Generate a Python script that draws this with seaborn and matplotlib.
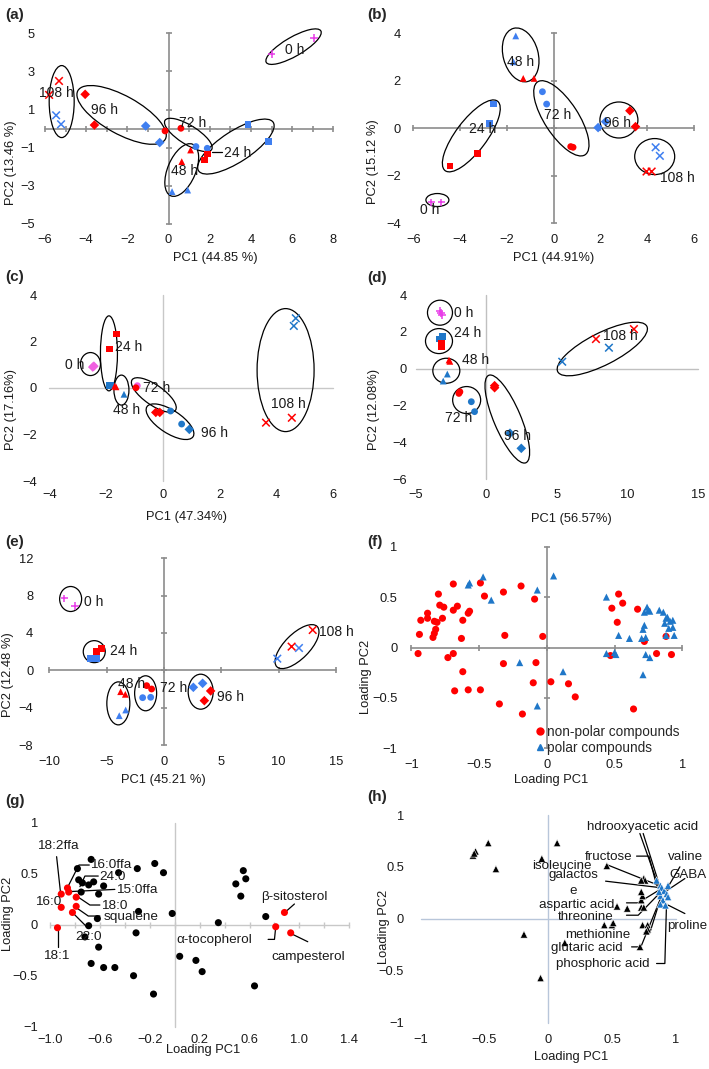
import numpy as np
import pandas as pd
import seaborn as sns
import matplotlib.pyplot as plt
import matplotlib.transforms as mtransforms
from matplotlib.patches import Ellipse
from matplotlib.lines import Line2D
from matplotlib.ticker import FuncFormatter

# ---------------- data: scores plots (a)-(e) ----------------
# group: r = red series, b = blue series, c = control (0 h)
a_time = ['0 h', '0 h', '108 h', '108 h', '108 h', '108 h', '96 h', '96 h', '96 h', '96 h',
          '72 h', '72 h', '72 h', '72 h', '48 h', '48 h', '48 h', '48 h', '24 h', '24 h', '24 h', '24 h']
a_grp = ['c', 'c', 'r', 'r', 'b', 'b', 'r', 'r', 'b', 'b',
         'r', 'r', 'b', 'b', 'r', 'r', 'b', 'b', 'r', 'r', 'b', 'b']
a_pc1 = [5.0, 7.06, -5.32, -5.8, -5.46, -5.22, -4.05, -3.6, -1.11, -0.43,
         -0.17, 0.6, 1.33, 1.88, 1.07, 0.64, 0.17, 0.93, 1.75, 1.9, 3.86, 4.86]
a_pc2 = [3.9, 4.74, 2.5, 1.77, 0.7, 0.23, 1.8, 0.19, 0.14, -0.73,
         -0.12, 0.02, -0.94, -1.03, -1.12, -1.73, -3.3, -3.22, -1.64, -1.33, 0.23, -0.68]

b_time = ['0 h', '0 h', '24 h', '24 h', '24 h', '24 h', '48 h', '48 h', '48 h', '48 h',
          '72 h', '72 h', '72 h', '72 h', '96 h', '96 h', '96 h', '96 h', '108 h', '108 h', '108 h', '108 h']
b_grp = ['c', 'c', 'r', 'r', 'b', 'b', 'b', 'b', 'r', 'r',
         'b', 'b', 'r', 'r', 'b', 'b', 'r', 'r', 'b', 'b', 'r', 'r']
b_pc1 = [-5.23, -4.8, -4.43, -3.26, -2.58, -2.73, -1.62, -1.72, -1.3, -0.84,
         -0.48, -0.3, 0.73, 0.83, 1.9, 2.22, 3.26, 3.5, 4.36, 4.54, 3.97, 4.19]
b_pc2 = [-3.12, -3.12, -1.59, -1.05, 1.02, 0.21, 3.89, 2.8, 2.1, 2.1,
         1.54, 1.02, -0.77, -0.8, 0.03, 0.28, 0.74, 0.07, -0.8, -1.16, -1.82, -1.82]

c_time = ['0 h', '0 h', '24 h', '24 h', '24 h', '24 h', '48 h', '48 h', '48 h', '72 h', '72 h',
          '72 h', '72 h', '96 h', '96 h', '96 h', '108 h', '108 h', '108 h', '108 h']
c_grp = ['c', 'c', 'r', 'r', 'b', 'b', 'r', 'r', 'b', 'c', 'r',
         'b', 'b', 'r', 'r', 'b', 'b', 'b', 'r', 'r']
c_pc1 = [-2.47, -2.43, -1.63, -1.89, -1.9, -1.83, -1.7, -1.65, -1.37, -0.9, -0.95,
         0.27, 0.66, -0.25, -0.11, 0.93, 4.68, 4.61, 3.63, 4.54]
c_pc2 = [0.9, 0.94, 2.32, 1.68, 0.1, 0.12, 0.08, 0.05, -0.27, 0.1, 0.01,
         -0.99, -1.55, -1.05, -1.05, -1.78, 3.0, 2.67, -1.49, -1.28]

d_time = ['0 h', '0 h', '0 h', '24 h', '24 h', '24 h', '24 h', '48 h', '48 h', '48 h', '48 h',
          '72 h', '72 h', '72 h', '72 h', '96 h', '96 h', '96 h', '96 h', '108 h', '108 h', '108 h', '108 h']
d_grp = ['c', 'c', 'c', 'b', 'b', 'r', 'r', 'r', 'r', 'b', 'b',
         'r', 'r', 'b', 'b', 'r', 'r', 'b', 'b', 'b', 'b', 'r', 'r']
d_pc1 = [-3.31, -3.12, -3.2, -3.35, -3.12, -3.19, -3.15, -2.64, -2.58, -2.76, -3.05,
         -1.94, -1.87, -1.06, -0.83, 0.59, 0.59, 1.68, 2.48, 5.38, 8.69, 7.77, 10.46]
d_pc2 = [3.13, 2.91, 3.02, 1.61, 1.74, 1.19, 1.37, 0.47, 0.4, -0.29, -0.67,
         -1.34, -1.25, -1.79, -2.33, -1.03, -0.92, -3.5, -4.32, 0.38, 1.14, 1.61, 2.15]

e_time = ['0 h', '0 h', '24 h', '24 h', '24 h', '24 h', '48 h', '48 h', '48 h', '48 h',
          '72 h', '72 h', '72 h', '72 h', '96 h', '96 h', '96 h', '96 h', '108 h', '108 h', '108 h', '108 h']
e_grp = ['c', 'c', 'b', 'b', 'r', 'r', 'r', 'r', 'b', 'b',
         'r', 'r', 'b', 'b', 'b', 'b', 'r', 'r', 'b', 'b', 'r', 'r']
e_pc1 = [-8.69, -7.76, -6.45, -5.87, -5.87, -5.44, -3.78, -3.37, -3.9, -3.34,
         -1.51, -1.08, -1.86, -1.16, 2.56, 3.37, 4.07, 3.52, 9.88, 11.77, 11.13, 12.97]
e_pc2 = [7.71, 6.89, 1.29, 1.29, 2.0, 2.32, -2.29, -2.57, -4.86, -4.25,
         -1.64, -2.0, -2.93, -2.89, -1.82, -1.39, -2.21, -3.25, 1.25, 2.39, 2.54, 4.32]

# ---------------- data: loading plots (f)-(h) ----------------
f_nonpolar_x = [-0.69, -0.49, -0.80, -0.46, -0.32, -0.19, -0.09, -0.88, -0.93, -0.88, -0.83, -0.81,
                -0.79, -0.76, -0.69, -0.66, -0.58, -0.57, -0.62, -0.77, -0.82, -0.83, -0.84, -0.94,
                -0.63, -0.31, -0.03, -0.95, -0.73, -0.69, -0.62, -0.68, -0.58, -0.49, -0.32, -0.08,
                -0.10, 0.03, 0.16, 0.21, -0.35, -0.18, 0.53, 0.56, 0.48, 0.52, 0.67, 0.72, 0.81,
                0.92, 0.88, 0.47, 0.64]
f_nonpolar_y = [0.63, 0.64, 0.53, 0.51, 0.55, 0.61, 0.48, 0.34, 0.27, 0.29, 0.26, 0.25,
                0.42, 0.40, 0.37, 0.41, 0.34, 0.36, 0.27, 0.29, 0.18, 0.14, 0.10, 0.13,
                0.09, 0.12, 0.11, -0.06, -0.10, -0.06, -0.24, -0.43, -0.42, -0.42, -0.16, -0.15,
                -0.35, -0.34, -0.36, -0.49, -0.56, -0.66, 0.53, 0.44, 0.39, 0.25, 0.38, 0.06, -0.06,
                -0.07, 0.11, -0.08, -0.61]
f_polar_x = [-0.58, -0.57, -0.47, -0.41, -0.07, 0.05, -0.20, 0.12, -0.07, 0.44, 0.53, 0.61, 0.44,
             0.50, 0.51, 0.71, 0.70, 0.73, 0.71, 0.72, 0.74, 0.75, 0.72, 0.76, 0.83, 0.86, 0.88,
             0.89, 0.90, 0.93, 0.93, 0.94, 0.88, 0.73, 0.76, 0.87, 0.91]
f_polar_y = [0.62, 0.64, 0.70, 0.47, 0.57, 0.71, -0.15, -0.24, -0.58, 0.50, 0.12, 0.09, -0.06,
             -0.05, -0.07, -0.27, 0.09, 0.10, 0.18, 0.22, 0.40, 0.37, 0.35, 0.36, 0.37, 0.35, 0.29,
             0.30, 0.19, 0.27, 0.20, 0.12, 0.12, -0.07, -0.10, 0.24, 0.26]

g_red_x = [-0.91, -0.86, -0.85, -0.79, -0.91, -0.79, -0.82, -0.94, 0.88, 0.81, 0.93]
g_red_y = [0.30, 0.36, 0.32, 0.27, 0.17, 0.18, 0.12, -0.03, 0.12, -0.02, -0.08]
g_black_x = [-0.67, -0.78, -0.77, -0.74, -0.69, -0.65, -0.75, -0.57, -0.61, -0.45, -0.30, -0.16,
             -0.09, -0.29, -0.02, -0.62, -0.69, -0.72, -0.61, -0.31, 0.35, 0.49, 0.55, 0.57, 0.53,
             0.73, -0.67, -0.57, -0.48, -0.33, -0.17, 0.04, 0.17, 0.22, 0.64]
g_black_y = [0.64, 0.55, 0.44, 0.41, 0.39, 0.42, 0.32, 0.38, 0.30, 0.51, 0.55, 0.60,
             0.51, 0.13, 0.11, 0.06, -0.01, -0.12, -0.22, -0.08, 0.02, 0.40, 0.53, 0.45, 0.28,
             0.08, -0.38, -0.42, -0.42, -0.50, -0.68, -0.31, -0.35, -0.46, -0.60]

h_black_x = [-0.59, -0.57, -0.58, -0.47, -0.41, -0.05, 0.07, -0.19, 0.13, -0.06, 0.46, 0.54, 0.62,
             0.44, 0.50, 0.51, 0.72, 0.73, 0.75, 0.73, 0.74, 0.73, 0.75, 0.76, 0.73, 0.74, 0.78,
             0.78, 0.77]
h_black_y = [0.61, 0.65, 0.63, 0.73, 0.48, 0.58, 0.73, -0.15, -0.23, -0.57, 0.51, 0.12, 0.10,
             -0.06, -0.06, -0.04, -0.27, 0.11, 0.11, 0.18, 0.22, 0.26, 0.39, 0.37, 0.37, -0.06, -0.06,
             -0.10, -0.12]
h_blue_x = [0.85, 0.88, 0.89, 0.91, 0.93, 0.88, 0.90, 0.94, 0.88, 0.92, 0.94, 0.87]
h_blue_y = [0.37, 0.32, 0.30, 0.27, 0.24, 0.22, 0.18, 0.21, 0.14, 0.13, 0.32, 0.26]

# ---------------- annotations ----------------
# ellipses: (centre pc1, centre pc2, width px, height px, angle deg)
a_ell = [(6.07, 4.3, 63, 19, 30), (-5.19, 1.42, 25, 72, 0), (-2.28, 0.72, 100, 38, -29),
         (0.96, -0.33, 55, 19, -32), (0.64, -2.17, 56, 28, 67), (3.27, -0.94, 89, 31, 33)]
b_ell = [(-1.41, 3.09, 55, 35, 105), (-3.52, -0.32, 87, 31, 53), (0.33, 0.42, 87, 34, -57),
         (2.79, 0.35, 38, 36, 0), (4.32, -1.19, 40, 36, 0), (-4.97, -3.02, 23, 13, 0)]
c_ell = [(-2.55, 1.03, 20, 23, 0), (-1.9, 1.49, 17, 75, 0), (-1.46, -0.09, 15, 30, 0),
         (-0.32, -0.3, 53, 20, -35), (0.25, -1.45, 55, 23, -33), (4.32, 0.77, 57, 123, 0)]
d_ell = [(-3.28, 3.04, 25, 25, 0), (-3.35, 1.5, 27, 25, 0), (-2.83, -0.11, 27, 25, 0),
         (-1.39, -1.7, 28, 27, 0), (1.49, -2.73, 95, 27, 113), (8.22, 1.07, 100, 32, 27)]
e_ell = [(-8.14, 7.64, 22, 25, 0), (-6.08, 2.0, 22, 22, 0), (-3.98, -3.54, 23, 43, 0),
         (-1.6, -2.46, 22, 35, 0), (3.2, -2.29, 25, 35, 0), (11.6, 2.54, 57, 25, 45)]

a_txt = [('0 h', 6.14, 4.13), ('108 h', -5.43, 1.85), ('96 h', -3.13, 0.98), ('72 h', 1.15, 0.31),
         ('24 h', 3.34, -1.26), ('48 h', 0.8, -2.2)]
b_txt = [('48 h', -1.41, 2.78), ('72 h', 0.16, 0.56), ('96 h', 2.75, 0.21), ('108 h', 5.28, -2.1),
         ('24 h', -3.05, -0.04), ('0 h', -5.28, -3.44)]
c_txt = [('0 h', -3.1, 0.99), ('24 h', -1.22, 1.78), ('72 h', -0.22, 0.01), ('48 h', -1.28, -0.95),
         ('96 h', 1.83, -1.95), ('108 h', 4.41, -0.7)]
d_txt = [('0 h', -1.63, 3.0), ('24 h', -1.35, 1.95), ('48 h', -0.76, 0.47), ('72 h', -1.94, -2.66),
         ('96 h', 2.2, -3.65), ('108 h', 9.52, 1.77)]
e_txt = [('0 h', -6.16, 7.36), ('24 h', -3.49, 2.11), ('48 h', -2.82, -1.46), ('72 h', 0.81, -1.86),
         ('96 h', 5.84, -2.89), ('108 h', 15.0, 4.14)]

g_txt = [('18:2ffa', -0.941, 0.771, 'center'), ('16:0ffa', -0.68, 0.585, 'left'),
         ('24:0', -0.605, 0.464, 'left'), ('15:0ffa', -0.467, 0.34, 'left'),
         ('18:0', -0.592, 0.18, 'left'), ('squalene', -0.573, 0.074, 'left'),
         ('22:0', -0.693, -0.118, 'center'), ('16:0', -1.013, 0.225, 'center'),
         ('18:1', -0.952, -0.307, 'center'), ('β-sitosterol', 0.96, 0.275, 'center'),
         ('α-tocopherol', 0.32, -0.15, 'center'), ('campesterol', 1.067, -0.314, 'center')]
g_lines = [[(-0.947, 0.667), (-0.915, 0.307)],
           [(-0.685, 0.585), (-0.768, 0.585), (-0.859, 0.366)],
           [(-0.613, 0.477), (-0.72, 0.477), (-0.76, 0.373)],
           [(-0.48, 0.346), (-0.853, 0.324)],
           [(-0.6, 0.193), (-0.68, 0.193), (-0.787, 0.281)],
           [(-0.6, 0.085), (-0.693, 0.085), (-0.8, 0.176)],
           [(-0.819, 0.118), (-0.693, -0.036)],
           [(-0.939, -0.216), (-0.939, -0.059)],
           [(0.96, 0.203), (0.899, 0.137)],
           [(0.749, -0.144), (0.8, -0.144), (0.808, -0.046)],
           [(1.067, -0.167), (0.941, -0.092)]]

h_txt = [('hdrooxyacetic acid', 0.737, 0.886), ('fructose', 0.476, 0.597), ('valine', 1.077, 0.591),
         ('isoleucine', 0.105, 0.505), ('galactos', 0.196, 0.418), ('e', 0.196, 0.27),
         ('GABA', 1.098, 0.421), ('aspartic acid', 0.222, 0.138), ('threonine', 0.293, 0.019),
         ('proline', 1.093, -0.071), ('methionine', 0.392, -0.156), ('glutaric acid', 0.301, -0.283),
         ('phosphoric acid', 0.431, -0.43)]
h_lines = [[(0.719, 0.822), (0.863, 0.324)], [(0.745, 0.822), (0.876, 0.31)],
           [(0.693, 0.604), (0.79, 0.604), (0.85, 0.324)],
           [(0.47, 0.517), (0.863, 0.324)], [(0.45, 0.363), (0.868, 0.302)],
           [(1.033, 0.501), (0.928, 0.283)], [(1.072, 0.388), (0.928, 0.27)],
           [(0.614, 0.154), (0.706, 0.154), (0.868, 0.276)],
           [(0.614, 0.035), (0.706, 0.035), (0.876, 0.25)],
           [(1.072, 0.051), (0.941, 0.132)],
           [(0.753, -0.135), (0.797, -0.135), (0.889, 0.228)],
           [(0.654, -0.27), (0.727, -0.27), (0.884, 0.205)],
           [(0.85, -0.43), (0.915, -0.43), (0.928, 0.148)]]

# ---------------- style ----------------
sns.set_theme(style='white')
plt.rcParams['font.family'] = ['Liberation Sans', 'DejaVu Sans']
plt.rcParams['axes.unicode_minus'] = True

RED = '#ff0000'
MARKERS = {'0 h': '+', '24 h': 's', '48 h': '^', '72 h': 'o', '96 h': 'D', '108 h': 'x'}
W, H = 709, 1069
fig = plt.figure(figsize=(W / 100, H / 100), dpi=100)


def make_ax(x0, x1, y0, y1):
    ax = fig.add_axes([x0 / W, 1 - y1 / H, (x1 - x0) / W, (y1 - y0) / H])
    ax.patch.set_alpha(0)
    ax._px = (x0, x1, y0, y1)
    return ax


def fmt_num(v, pos):
    return f'{v:g}'.replace('-', '\u2212')


def fmt_1(v, pos):
    return f'{v:.1f}'.replace('-', '\u2212')


def excel_axes(ax, xlim, ylim, xticks, yticks, xlabel, ylabel, xl_px, yl_px,
               xmarks=None, ymarks=None, color='#8c8c8c', lw=1.2, xpad=7, ypad=7, xfmt=fmt_num):
    ax.set_xlim(xlim)
    ax.set_ylim(ylim)
    for s in ax.spines.values():
        s.set_visible(False)
    ax.plot(xlim, [0, 0], color=color, lw=lw, zorder=1, clip_on=False)
    ax.plot([0, 0], ylim, color=color, lw=lw, zorder=1, clip_on=False)
    if xmarks is not None:
        ax.plot(xmarks, np.zeros(len(xmarks)), ls='none', marker='|', ms=5, mew=lw,
                color=color, zorder=1, clip_on=False)
    if ymarks is not None:
        ax.plot(np.zeros(len(ymarks)), ymarks, ls='none', marker='_', ms=5, mew=lw,
                color=color, zorder=1, clip_on=False)
    ax.set_xticks(xticks)
    ax.set_yticks(yticks)
    ax.xaxis.set_major_formatter(FuncFormatter(xfmt))
    ax.yaxis.set_major_formatter(FuncFormatter(fmt_num))
    ax.tick_params(axis='x', length=0, pad=xpad, labelsize=9.3, colors='#1a1a1a')
    ax.tick_params(axis='y', length=0, pad=ypad, labelsize=9.3, colors='#1a1a1a')
    ax.grid(False)
    x0, x1, y0, y1 = ax._px
    ax.set_xlabel(xlabel, fontsize=9.3, color='#1a1a1a', va='center')
    ax.set_ylabel(ylabel, fontsize=9.3, color='#1a1a1a', va='center')
    ax.xaxis.set_label_coords((xl_px[0] - x0) / (x1 - x0), (y1 - xl_px[1]) / (y1 - y0))
    ax.yaxis.set_label_coords((yl_px[0] - x0) / (x1 - x0), (y1 - yl_px[1]) / (y1 - y0))


def scores(ax, times, grps, pc1, pc2, blue, ctrl, ctrl_marker='+'):
    df = pd.DataFrame({'time': times, 'group': grps, 'PC1': pc1, 'PC2': pc2})
    mk = dict(MARKERS)
    mk['0 h'] = ctrl_marker
    pal = {'r': RED, 'b': blue, 'c': ctrl}
    line_art = df['time'].map(mk).isin(['+', 'x'])
    filled = df[~line_art]
    lines = df[line_art]
    sns.scatterplot(data=filled, x='PC1', y='PC2', hue='group', style='time',
                    markers={t: mk[t] for t in filled['time'].unique()}, palette=pal,
                    s=24, linewidth=0, legend=False, ax=ax, clip_on=False, zorder=3)
    if len(lines):
        sns.scatterplot(data=lines, x='PC1', y='PC2', hue='group', style='time',
                        markers={t: mk[t] for t in lines['time'].unique()}, palette=pal,
                        s=30, linewidth=1.1, legend=False, ax=ax, clip_on=False, zorder=3)


def ellipses(ax, specs):
    for cx, cy, w, h, ang in specs:
        tr = fig.dpi_scale_trans + mtransforms.ScaledTranslation(cx, cy, ax.transData)
        ax.add_patch(Ellipse((0, 0), w / 100, h / 100, angle=ang, transform=tr, fill=False,
                             ec='black', lw=0.9, clip_on=False, zorder=2))


def labels(ax, items, size=10):
    for t, x, y in items:
        ax.text(x, y, t, ha='center', va='center', fontsize=size, color='#1a1a1a', zorder=4,
                clip_on=False)


def leaders(ax, lines):
    for pts in lines:
        xs, ys = zip(*pts)
        ax.plot(xs, ys, color='black', lw=0.9, zorder=2, clip_on=False)


BLUE1 = '#3f7ff0'
BLUE2 = '#1f77c8'
MAG = '#e83ce8'

# (a)
ax = make_ax(45, 333.3, 33.3, 224)
excel_axes(ax, (-6, 8), (-5, 5), np.arange(-6, 9, 2), np.arange(-5, 6, 2),
           'PC1 (44.85 %)', 'PC2 (13.46 %)', (215, 258), (11, 163),
           xmarks=np.arange(-6, 9, 1), ymarks=np.arange(-5, 6, 2), xpad=7.2, ypad=7.2)
scores(ax, a_time, a_grp, a_pc1, a_pc2, BLUE1, MAG)
ellipses(ax, a_ell)
labels(ax, a_txt)
leaders(ax, [[(2.09, -1.21), (2.58, -1.21)]])

# (b)
ax = make_ax(413.3, 694, 33.3, 223.3)
excel_axes(ax, (-6, 6), (-4, 4), np.arange(-6, 7, 2), np.arange(-4, 5, 2),
           'PC1 (44.91%)', 'PC2 (15.12 %)', (554, 258), (373, 162),
           xmarks=np.arange(-6, 7, 2), ymarks=np.arange(-4, 5, 2), xpad=7.9, ypad=9)
scores(ax, b_time, b_grp, b_pc1, b_pc2, BLUE1, MAG)
ellipses(ax, b_ell)
labels(ax, b_txt)

# (c)
ax = make_ax(49.3, 333.3, 295, 481)
excel_axes(ax, (-4, 6), (-4, 4), np.arange(-4, 7, 2), np.arange(-4, 5, 2),
           'PC1 (47.34%)', 'PC2 (17.16%)', (187, 517), (11, 409),
           color='#c8c8c8', lw=1.0, xpad=5.8, ypad=9)
scores(ax, c_time, c_grp, c_pc1, c_pc2, BLUE2, '#f060e0', ctrl_marker='D')
ellipses(ax, c_ell)
labels(ax, c_txt)

# (d)
ax = make_ax(415.7, 698, 295, 479.3)
excel_axes(ax, (-5, 15), (-6, 4), np.arange(-5, 16, 5), np.arange(-6, 5, 2),
           'PC1 (56.57%)', 'PC2 (12.08%)', (571, 519), (374, 409),
           color='#c0c0c0', lw=1.0, xpad=7, ypad=6.3)
scores(ax, d_time, d_grp, d_pc1, d_pc2, BLUE2, MAG)
ellipses(ax, d_ell)
labels(ax, d_txt)

# (e)
ax = make_ax(49.3, 336, 558.3, 745)
excel_axes(ax, (-10, 15), (-8, 12), np.arange(-10, 16, 5), np.arange(-8, 13, 4),
           'PC1 (45.21 %)', 'PC2 (12.48 %)', (163, 780), (8, 675),
           xmarks=np.arange(-10, 16, 5), ymarks=np.arange(-8, 13, 4), xpad=7.7, ypad=11.5)
scores(ax, e_time, e_grp, e_pc1, e_pc2, BLUE1, MAG)
ellipses(ax, e_ell)
labels(ax, e_txt)

# (f)
ax = make_ax(411.3, 682.3, 546.7, 748.3)
excel_axes(ax, (-1, 1), (-1, 1), np.arange(-1, 1.01, 0.5), np.arange(-1, 1.01, 0.5),
           'Loading PC1', 'Loading PC2', (551, 780), (366, 677),
           xmarks=np.arange(-1, 1.01, 0.5), ymarks=np.arange(-1, 1.01, 0.5), xpad=7.7, ypad=10)
f_df = pd.DataFrame({
    'PC1': f_nonpolar_x + f_polar_x,
    'PC2': f_nonpolar_y + f_polar_y,
    'type': ['non-polar compounds'] * len(f_nonpolar_x) + ['polar compounds'] * len(f_polar_x)})
f_pal = {'non-polar compounds': RED, 'polar compounds': BLUE2}
f_mk = {'non-polar compounds': 'o', 'polar compounds': '^'}
sns.scatterplot(data=f_df, x='PC1', y='PC2', hue='type', style='type', markers=f_mk,
                palette=f_pal, s=26, linewidth=0, legend=False, ax=ax, clip_on=False, zorder=3)
handles = [Line2D([], [], ls='none', marker=f_mk[k], color=f_pal[k], ms=5) for k in f_mk]
ax.legend(handles, list(f_mk), loc='upper left', bbox_to_anchor=(-0.085, -0.765),
          bbox_transform=ax.transData, frameon=False, fontsize=9.8, handlelength=0.7,
          handletextpad=0.15, labelspacing=0.15, borderpad=0, borderaxespad=0)

# (g)
ax = make_ax(50, 349.3, 822.7, 1026.7)
excel_axes(ax, (-1.0, 1.4), (-1, 1), [-1.0, -0.6, -0.2, 0.2, 0.6, 1.0, 1.4],
           np.arange(-1, 1.01, 0.5), 'Loading PC1', 'Loading PC2', (203, 1050), (8, 914),
           xmarks=np.arange(-1.0, 1.41, 0.2), color='#c8c8c8', lw=1.0, xpad=5.3, ypad=8.6,
           xfmt=fmt_1)
g_df = pd.DataFrame({'PC1': g_black_x + g_red_x, 'PC2': g_black_y + g_red_y,
                     'kind': ['other'] * len(g_black_x) + ['named'] * len(g_red_x)})
sns.scatterplot(data=g_df, x='PC1', y='PC2', hue='kind', palette={'other': 'black', 'named': RED},
                s=26, linewidth=0, legend=False, ax=ax, clip_on=False, zorder=3)
leaders(ax, g_lines)
for t, x, y, ha in g_txt:
    ax.text(x, y, t, ha=ha, va='center', fontsize=9.7, color='#1a1a1a', zorder=4)

# (h)
ax = make_ax(420.7, 675.7, 815, 1022.7)
excel_axes(ax, (-1, 1), (-1, 1), np.arange(-1, 1.01, 0.5), np.arange(-1, 1.01, 0.5),
           'Loading PC1', 'Loading PC2', (571, 1057), (384, 927),
           color='#b8c6da', lw=1.0, xpad=8.1, ypad=12)
h_df = pd.DataFrame({'PC1': h_black_x + h_blue_x, 'PC2': h_black_y + h_blue_y,
                     'kind': ['other'] * len(h_black_x) + ['named'] * len(h_blue_x)})
sns.scatterplot(data=h_df, x='PC1', y='PC2', hue='kind', palette={'other': 'black', 'named': BLUE2},
                marker='^', s=28, linewidth=0.4, edgecolor='white', legend=False, ax=ax,
                clip_on=False, zorder=3)
leaders(ax, h_lines)
labels(ax, h_txt, size=9.6)

for letter, x, y in [('(a)', 5, 15), ('(b)', 367, 15), ('(c)', 5, 277), ('(d)', 367, 278),
                     ('(e)', 5, 542), ('(f)', 367, 542), ('(g)', 5, 801), ('(h)', 367, 797)]:
    fig.text(x / W, 1 - y / H, letter, fontsize=11, fontweight='bold', ha='left', va='center')

fig.savefig('out.png', dpi=100)
